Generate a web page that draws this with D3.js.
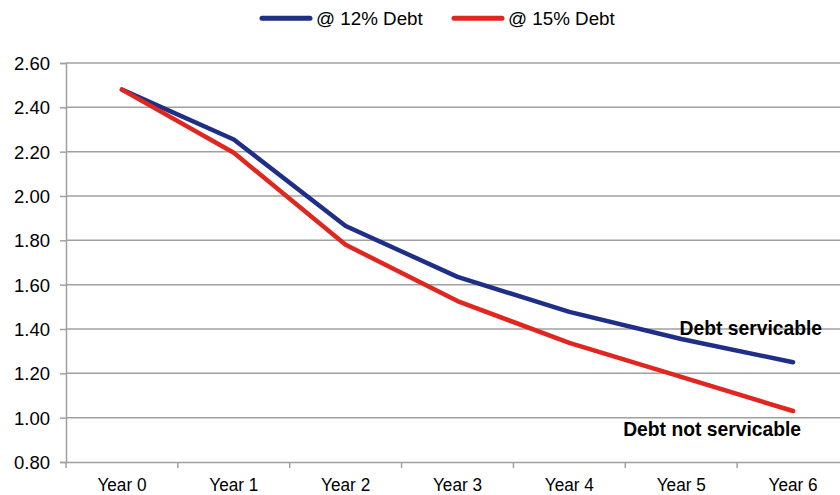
<!DOCTYPE html>
<html><head><meta charset="utf-8">
<script src="https://cdn.jsdelivr.net/npm/d3@7"></script>
<style>body{margin:0;background:#fff}svg{display:block}text{font-family:"Liberation Sans",Arial,sans-serif}</style>
</head><body>
<svg id="c" width="840" height="495"></svg>
<script>
const categories = ["Year 0","Year 1","Year 2","Year 3","Year 4","Year 5","Year 6"];
const debt12 = [2.48, 2.255, 1.865, 1.635, 1.477, 1.355, 1.25];
const debt15 = [2.48, 2.195, 1.78, 1.526, 1.337, 1.184, 1.03];
const yTicks = [0.8, 1.0, 1.2, 1.4, 1.6, 1.8, 2.0, 2.2, 2.4, 2.6];
const seriesNames = ["@ 12% Debt", "@ 15% Debt"];
const annotations = ["Debt servicable", "Debt not servicable"];
const annotationValues = [1.373, 0.916];

(function(){
const svg = d3.select("#c");
const pL = 66, pR = 849, pT = 63, pB = 462;
const grey = "#a0a0a0";
const x = d3.scaleBand().domain(categories).range([pL, pR]);
const y = d3.scaleLinear().domain([0.8, 2.6]).range([pB, pT]);

function stxt(tx, ty, str, anchor, size, weight, sx){
  return svg.append("text").attr("transform", `translate(${tx},${ty}) scale(${sx||1},1)`)
    .attr("text-anchor", anchor).attr("font-size", size).attr("font-weight", weight||"normal")
    .attr("fill", "#000").text(str);
}

svg.append("g").selectAll("line").data(yTicks.slice(1)).join("line")
  .attr("x1", pL).attr("x2", pR).attr("y1", d=>y(d)).attr("y2", d=>y(d))
  .attr("stroke", grey).attr("stroke-width", 1.5);

const ya = svg.append("g").attr("transform", `translate(${pL},0)`)
  .call(d3.axisLeft(y).tickValues(yTicks).tickSize(6).tickFormat(""));
ya.selectAll("line,path").attr("stroke", grey).attr("stroke-width", 1.5);
yTicks.forEach(t => stxt(50, y(t)+7, d3.format(".2f")(t), "end", 18.5));

const xa = svg.append("g").attr("transform", `translate(0,${pB})`)
  .call(d3.axisBottom(x).tickSize(0).tickFormat(""));
xa.selectAll("path").attr("stroke", grey).attr("stroke-width", 1.5);
const bounds = categories.map(c => x(c)).concat([pR]);
svg.append("g").selectAll("line").data(bounds).join("line")
  .attr("x1", d=>d).attr("x2", d=>d).attr("y1", pB).attr("y2", pB+6)
  .attr("stroke", grey).attr("stroke-width", 1.5);
categories.forEach(c => stxt(x(c)+x.bandwidth()/2, 491, c, "middle", 18.5, "normal", 0.93));

const line = d3.line().x((d,i)=>x(categories[i])+x.bandwidth()/2).y(d=>y(d));
const colors = ["#1f2f87", "#e0261e"];
[debt12, debt15].forEach((s,i) => {
  svg.append("path").datum(s).attr("d", line).attr("fill","none")
    .attr("stroke", colors[i]).attr("stroke-width", 4.5)
    .attr("stroke-linejoin","round").attr("stroke-linecap","round");
});

const lastX = x(categories[categories.length-1]) + x.bandwidth()/2;
const annEnd = [lastX + 29, lastX + 8];
annotations.forEach((a,i) => stxt(annEnd[i], y(annotationValues[i]), a, "end", 19.3, "bold"));

const legX = [262, 454];
seriesNames.forEach((n,i) => {
  svg.append("line").attr("x1", legX[i]).attr("x2", legX[i]+48).attr("y1", 18.3).attr("y2", 18.3)
    .attr("stroke", colors[i]).attr("stroke-width", 5).attr("stroke-linecap","round");
  stxt(legX[i]+54, 24.5, n, "start", 18.8);
});
})();
</script>
</body></html>
